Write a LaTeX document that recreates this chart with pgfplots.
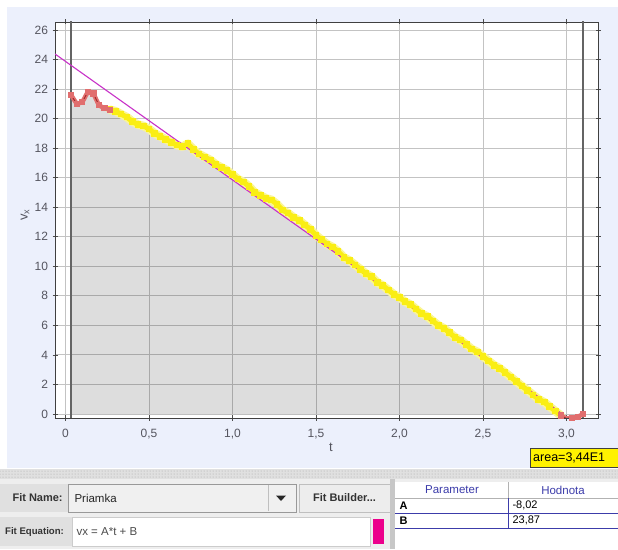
\documentclass[border=0pt]{standalone}
\usepackage{pgfplots}
\pgfplotsset{compat=1.18}
\usepackage{pgfplotstable}
\usepackage{fontspec}
\setmainfont{Liberation Sans}
\usetikzlibrary{patterns}

\definecolor{panelbg}{RGB}{236,240,252}
\definecolor{gridc}{RGB}{195,195,195}
\definecolor{boundc}{RGB}{100,100,100}
\definecolor{hilite}{RGB}{250,238,20}
\definecolor{hiliteglow}{RGB}{250,245,150}
\definecolor{ptred}{RGB}{225,110,110}
\definecolor{ptdark}{RGB}{160,40,40}
\definecolor{fitc}{RGB}{200,50,200}
\definecolor{ticktext}{RGB}{85,85,95}
\definecolor{uibg}{RGB}{238,238,238}
\definecolor{tblue}{RGB}{60,60,170}

% v_x (t), read off the track
\pgfplotstableread{
t     v
0.033 21.6
0.067 21.0
0.100 21.1
0.133 21.8
0.167 21.7
0.200 20.9
0.233 20.7
0.267 20.6
0.300 20.5
0.333 20.3
0.367 20.1
0.400 19.8
0.433 19.6
0.467 19.5
0.500 19.3
0.533 19.0
0.567 18.8
0.600 18.6
0.633 18.4
0.667 18.2
0.700 18.1
0.733 18.3
0.767 17.9
0.800 17.6
0.833 17.4
0.867 17.2
0.900 16.9
0.933 16.7
0.967 16.5
1.000 16.2
1.033 15.9
1.067 15.7
1.100 15.4
1.133 15.0
1.167 14.8
1.200 14.6
1.233 14.5
1.267 14.2
1.300 13.8
1.333 13.6
1.367 13.3
1.400 13.1
1.433 12.8
1.467 12.5
1.500 12.1
1.533 11.8
1.567 11.5
1.600 11.3
1.633 11.0
1.667 10.6
1.700 10.4
1.733 10.1
1.767 9.8
1.800 9.5
1.833 9.3
1.867 8.9
1.900 8.7
1.933 8.4
1.967 8.1
2.000 7.9
2.033 7.6
2.067 7.4
2.100 7.1
2.133 6.8
2.167 6.6
2.200 6.3
2.233 6.0
2.267 5.8
2.300 5.5
2.333 5.2
2.367 5.0
2.400 4.7
2.433 4.4
2.467 4.2
2.500 3.9
2.533 3.6
2.567 3.3
2.600 3.1
2.633 2.8
2.667 2.5
2.700 2.2
2.733 1.9
2.767 1.6
2.800 1.3
2.833 1.0
2.867 0.8
2.900 0.5
2.933 0.2
2.967 -0.1
3.000 -0.3
3.033 -0.25
3.067 -0.2
3.100 0.0
}\vdata

\begin{document}
\begin{tikzpicture}
\fill[white] (0,0) rectangle (618pt,549pt);
\fill[panelbg] (7pt,81pt) rectangle (618pt,542pt);

\begin{axis}[
  at={(55pt,131pt)}, anchor=south west,
  scale only axis,
  width=543pt, height=396pt,
  xmin=-0.063, xmax=3.189,
  ymin=-0.27, ymax=26.54,
  axis background/.style={fill=white},
  xtick={0,0.5,1,1.5,2,2.5,3},
  xticklabels={0,{0,5},{1,0},{1,5},{2,0},{2,5},{3,0}},
  ytick={0,2,...,26},
  grid=major,
  major grid style={gridc, line width=0.9pt},
  axis line style={black!75, line width=0.9pt},
  tick align=center,
  major tick length=5pt,
  tick style={black!70, line width=0.7pt},
  /pgf/number format/assume math mode=true,
  tick label style={font=\fontsize{12}{14}\selectfont, text=ticktext},
  xticklabel style={yshift=-5pt},
  yticklabel style={xshift=-1pt},
]
% area under the track (translucent, so the grid shows through darker)
\addplot[draw=none, fill=black, fill opacity=0.135,
  restrict x to domain=0:2.97] table[x=t, y=v] {\vdata} \closedcycle;

% area bounds
\addplot[boundc, line width=1.6pt] coordinates {(0.033,-1) (0.033,30)};
\addplot[boundc, line width=1.6pt] coordinates {(3.100,-1) (3.100,30)};

% selected points (highlight)
\addplot[hiliteglow, line width=8.5pt, line join=round, line cap=round,
  restrict x to domain=0.26:2.97] table[x=t, y=v] {\vdata};
\addplot[hilite, line width=5pt, line join=round, line cap=round,
  mark=square*, mark size=2.8pt, mark options={hilite, line width=0pt},
  restrict x to domain=0.26:2.97] table[x=t, y=v] {\vdata};

% unselected points
\addplot[ptred, line width=4.5pt, line join=round, line cap=round,
  mark=square*, mark size=2.6pt, mark options={ptred, line width=0pt},
  restrict x to domain=0:0.27] table[x=t, y=v] {\vdata};
\addplot[ptred, line width=4.5pt, line join=round, line cap=round,
  mark=square*, mark size=2.6pt, mark options={ptred, line width=0pt},
  restrict x to domain=2.96:3.2] table[x=t, y=v] {\vdata};

% track line
\addplot[ptdark, line width=0.9pt] table[x=t, y=v] {\vdata};

% fit vx = A*t + B, A=-8.02, B=23.87
\addplot[fitc, line width=1.1pt] coordinates {(-0.063,24.375) (2.976,0.0)};
\end{axis}

\node[font=\fontsize{13}{15}\selectfont, text=ticktext, rotate=90] at (25pt,334pt) {v\textsubscript{x}};
\node[font=\fontsize{13}{15}\selectfont, text=ticktext] at (331pt,102pt) {t};

% area readout
\draw[fill=yellow, draw=black!75, line width=0.8pt] (530pt,82pt) rectangle (625pt,101pt);
\node[anchor=west, font=\fontsize{12.5}{14}\selectfont, inner sep=0pt] at (533pt,91.5pt) {area=3,44E1};

% splitter
\fill[black!12] (0,70pt) rectangle (618pt,80pt);
\fill[pattern=dots, pattern color=black!35] (0,70pt) rectangle (618pt,80pt);

% fit panel
\fill[uibg] (0,0) rectangle (618pt,70pt);
\fill[black!12] (0,37pt) rectangle (68pt,65pt);
\node[anchor=west, font=\bfseries\fontsize{11}{13}\selectfont, text=black!80] at (9pt,51pt) {Fit Name:};
\draw[fill=black!6, draw=black!40] (68pt,37pt) rectangle (296pt,65pt);
\draw[black!25] (268pt,38pt) -- (268pt,64pt);
\node[anchor=west, font=\fontsize{11.5}{13}\selectfont, text=black!85] at (71pt,51pt) {Priamka};
\fill[black!85] (276pt,53.5pt) -- (286pt,53.5pt) -- (281pt,48pt) -- cycle;
\draw[fill=black!7, draw=black!25] (299pt,37pt) rectangle (390pt,65pt);
\node[font=\bfseries\fontsize{11}{13}\selectfont, text=black!80] at (344.5pt,51pt) {Fit Builder...};

\fill[black!12] (0,3pt) rectangle (72pt,32pt);
\node[anchor=west, font=\bfseries\fontsize{9.6}{12}\selectfont, text=black!80, inner sep=0pt] at (5pt,17pt) {Fit Equation:};
\draw[fill=white, draw=black!20] (72pt,3pt) rectangle (370pt,32pt);
\node[anchor=west, font=\fontsize{11.5}{13}\selectfont, text=black!70] at (73pt,17pt) {vx = A*t + B};
\fill[magenta] (373pt,5pt) rectangle (384pt,30pt);

\fill[black!22] (390pt,0) rectangle (395pt,70pt);
\fill[white] (395pt,0) rectangle (618pt,67pt);
\draw[black!30] (395pt,51pt) -- (618pt,51pt);
\draw[tblue, line width=0.8pt] (395pt,36pt) -- (618pt,36pt);
\draw[tblue, line width=0.8pt] (395pt,21pt) -- (618pt,21pt);
\draw[black!30] (508pt,51pt) -- (508pt,67pt);
\draw[tblue, line width=0.8pt] (508pt,21pt) -- (508pt,51pt);
\node[font=\fontsize{11.5}{13}\selectfont, text=tblue] at (452pt,59pt) {Parameter};
\node[font=\fontsize{11.5}{13}\selectfont, text=tblue] at (563pt,59pt) {Hodnota};
\node[anchor=west, font=\bfseries\fontsize{11}{13}\selectfont] at (396pt,43.5pt) {A};
\node[anchor=west, font=\fontsize{11}{13}\selectfont] at (509pt,43.5pt) {-8,02};
\node[anchor=west, font=\bfseries\fontsize{11}{13}\selectfont] at (396pt,28.5pt) {B};
\node[anchor=west, font=\fontsize{11}{13}\selectfont] at (509pt,28.5pt) {23,87};

\pgfresetboundingbox
\useasboundingbox (0,0) rectangle (618pt,549pt);
\end{tikzpicture}
\end{document}
